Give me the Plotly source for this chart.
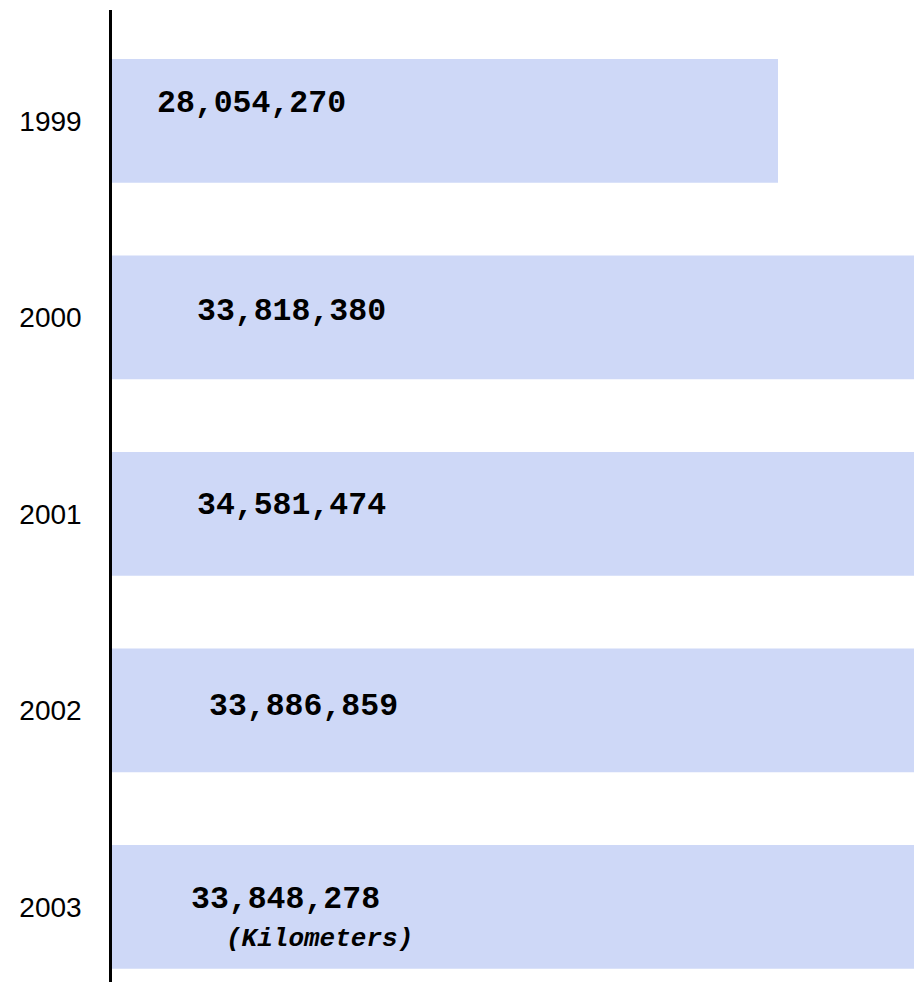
import plotly.graph_objects as go

years = ["1999", "2000", "2001", "2002", "2003"]
distances = [28054270, 33818380, 34581474, 33886859, 33848278]
unit_note = "(Kilometers)"

# label placement (pixel offsets from axis / bar centre) -- styling only
label_dx = [43, 83, 83, 95, 77]
label_dy = [17.6, 6.3, 7.9, 3.4, 7.4]

bar_color = "#ced8f7"

fig = go.Figure()
fig.add_trace(go.Bar(
    y=years, x=distances, orientation="h",
    marker=dict(color=bar_color, line=dict(width=0)),
    width=0.63, hoverinfo="skip",
))

mono = "Liberation Mono, Courier New, monospace"
for i, (v, dx, dy) in enumerate(zip(distances, label_dx, label_dy)):
    fig.add_annotation(x=0, y=i, xref="x", yref="y", text=f"<b>{v:,}</b>",
                       showarrow=False, xanchor="left", yanchor="middle",
                       xshift=dx, yshift=dy,
                       font=dict(family=mono, size=31.5, color="black"))

fig.add_annotation(x=0, y=len(years) - 1, xref="x", yref="y",
                   text=f"<b><i>{unit_note}</i></b>", showarrow=False,
                   xanchor="left", yanchor="middle", xshift=112, yshift=-32,
                   font=dict(family=mono, size=26, color="black"))

scale_px = 666.0 / distances[0]
fig_w = 914
plot_w = fig_w - 104
fig.update_layout(
    width=fig_w, height=974,
    margin=dict(l=104, r=0, t=2, b=0),
    paper_bgcolor="white", plot_bgcolor="white",
    showlegend=False,
    xaxis=dict(range=[0, plot_w / scale_px], visible=False, showgrid=False,
               zeroline=False, fixedrange=True),
    yaxis=dict(type="category", categoryorder="array", categoryarray=years,
               range=[4.3825, -0.5641], showline=True, linecolor="black",
               linewidth=2.5, ticks="", showgrid=False, zeroline=False,
               ticklabelstandoff=22,
               tickfont=dict(family="Liberation Sans, Arial, sans-serif",
                             size=28, color="black")),
)

fig.write_html("out.html")
